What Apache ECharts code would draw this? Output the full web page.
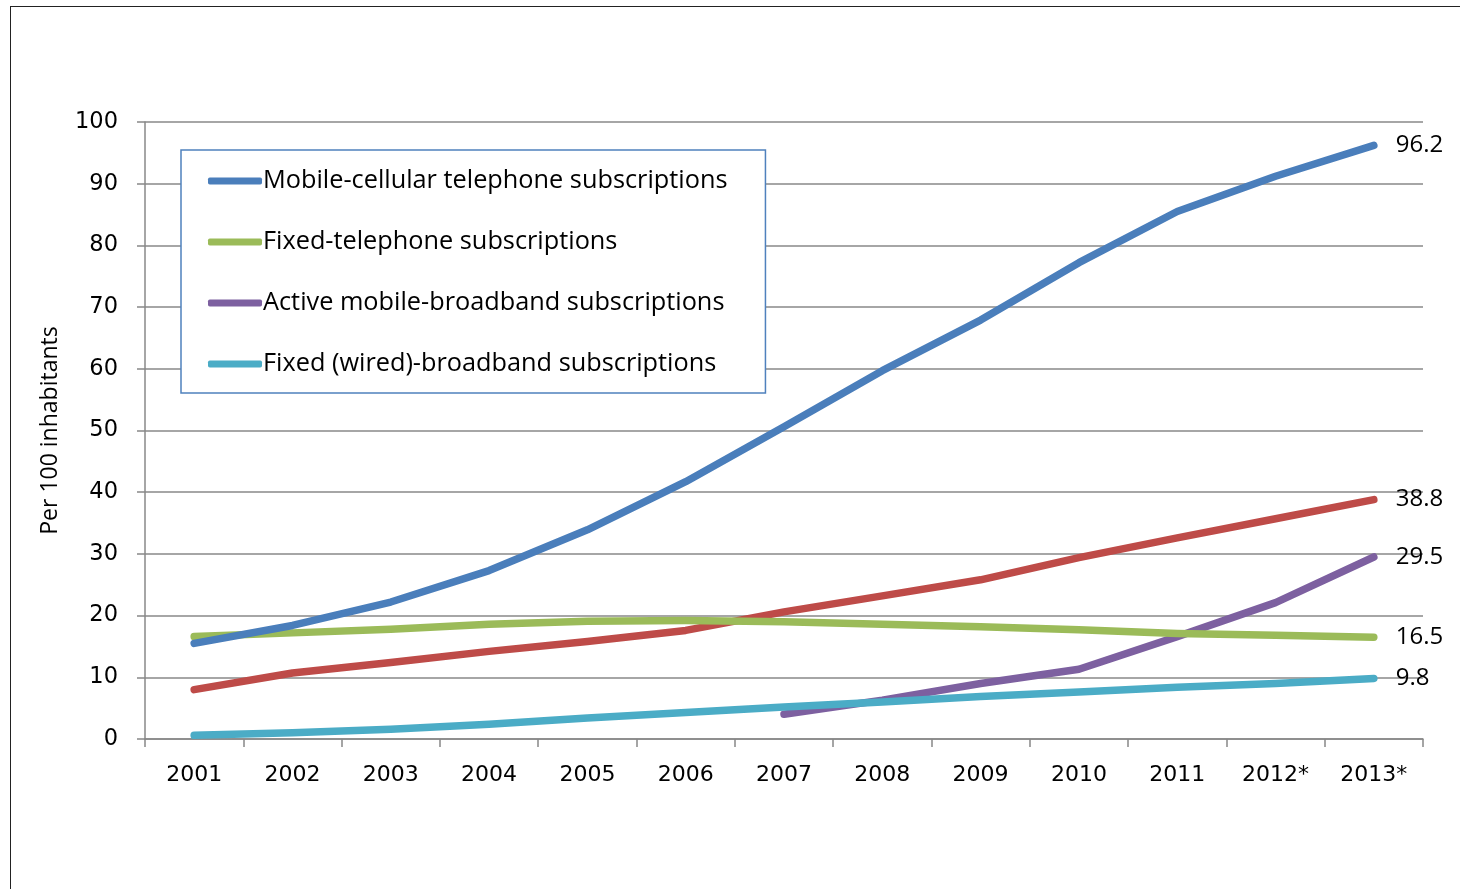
<!DOCTYPE html>
<html><head><meta charset="utf-8">
<script src="https://cdn.jsdelivr.net/npm/echarts@6/dist/echarts.min.js"></script>
<style>
html,body{margin:0;padding:0;background:#fff;}
#frame{position:absolute;left:10px;top:6px;width:1460px;height:900px;border:1.5px solid #222;box-sizing:border-box;}
#chart{position:absolute;left:0;top:0;width:1460px;height:889px;}
</style></head>
<body>
<div id="frame"></div>
<div id="chart"></div>
<script>
const years = ['2001','2002','2003','2004','2005','2006','2007','2008','2009','2010','2011','2012*','2013*'];
const yTicks = [0,10,20,30,40,50,60,70,80,90,100];
const mobileCellular = [15.5,18.4,22.2,27.3,33.9,41.7,50.6,59.7,67.9,77.2,85.5,91.2,96.2];
const fixedTelephone = [16.6,17.2,17.8,18.6,19.1,19.2,19.0,18.6,18.2,17.7,17.1,16.8,16.5];
const internetUsers = [8.0,10.7,12.4,14.2,15.8,17.6,20.6,23.2,25.8,29.4,32.6,35.7,38.8];
const mobileBroadband = [null,null,null,null,null,null,4.0,6.3,9.0,11.3,16.6,22.1,29.5];
const fixedBroadband = [0.6,1.0,1.6,2.4,3.4,4.3,5.2,6.0,6.9,7.6,8.4,9.0,9.8];
const names = ['Mobile-cellular telephone subscriptions','Fixed-telephone subscriptions','Active mobile-broadband subscriptions','Fixed (wired)-broadband subscriptions','Individuals using the Internet'];

const chart = echarts.init(document.getElementById('chart'));
function mk(name,data,color,z){
  return {name:name,type:'line',data:data,smooth:false,symbol:'none',showSymbol:false,
    connectNulls:false,z:z,
    lineStyle:{color:color,width:7.5,cap:'round',join:'round'},itemStyle:{color:color},
    endLabel:{show:true,distance:22,color:'#000',fontFamily:'Open Sans',fontSize:24,
      formatter:p=>Number(p.value).toFixed(1)},
    emphasis:{disabled:true}};
}
chart.setOption({
  animation:false,
  grid:{left:145,right:37,top:122,bottom:150,containLabel:false},
  legend:{
    data:names.slice(0,4),orient:'vertical',left:181,top:150,
    padding:[16,38,14,27],
    backgroundColor:'#fff',borderColor:'#4f81bd',borderWidth:1.5,
    itemWidth:54,itemHeight:7,itemGap:31,icon:'roundRect',
    textStyle:{fontFamily:'Open Sans',fontSize:25.3,color:'#000',lineHeight:30,padding:[0,0,0,-4]},
    selectedMode:false
  },
  xAxis:{type:'category',data:years,boundaryGap:true,
    axisLine:{lineStyle:{color:'#888',width:1.5}},
    axisTick:{show:true,length:8,alignWithLabel:false,lineStyle:{color:'#888',width:1.5}},
    axisLabel:{color:'#000',fontFamily:'DejaVu Sans',fontSize:22,margin:25}},
  yAxis:{type:'value',min:0,max:100,interval:10,
    name:'Per 100 inhabitants',nameLocation:'middle',nameGap:83,nameRotate:90,
    nameTextStyle:{fontFamily:'Open Sans',fontSize:23,color:'#000'},
    axisLine:{show:true,lineStyle:{color:'#888',width:1.5}},
    axisTick:{show:true,length:8,lineStyle:{color:'#888',width:1.5}},
    splitLine:{lineStyle:{color:'#888',width:1.5}},
    axisLabel:{color:'#000',fontFamily:'DejaVu Sans',fontSize:22.5,margin:27,
      formatter:v=>yTicks.includes(v)?String(v):''}},
  series:[
    mk(names[0],mobileCellular,'#4a7ebb',5),
    mk(names[1],fixedTelephone,'#9bbb59',4),
    mk(names[2],mobileBroadband,'#7d60a0',3),
    mk(names[3],fixedBroadband,'#4bacc6',6),
    mk(names[4],internetUsers,'#be4b48',2)
  ]
});
</script>
</body></html>
